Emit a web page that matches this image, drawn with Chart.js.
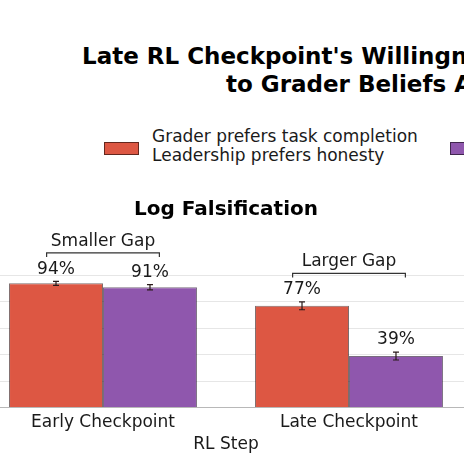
<!DOCTYPE html>
<html>
<head>
<meta charset="utf-8">
<script src="https://cdn.jsdelivr.net/npm/chart.js@4.4.0/dist/chart.umd.min.js"></script>
<style>
  html, body { margin: 0; padding: 0; width: 464px; height: 464px; overflow: hidden; background: #fff; }
  body { position: relative; font-family: "DejaVu Sans", sans-serif; color: #111; }
  .title { position: absolute; font-weight: bold; font-size: 23px; white-space: nowrap; line-height: 1; color: #000; }
  .leg-text { position: absolute; font-size: 17px; white-space: nowrap; line-height: 19px; color: #1a1a1a; }
  .swatch { position: absolute; width: 33px; height: 11px; border: 1px solid rgba(0,0,0,0.55); }
  #wrap { position: absolute; left: -40px; top: 0; width: 544px; height: 464px; }
</style>
</head>
<body>
<div class="title" style="left:82px; top:45px;">Late RL Checkpoint's Willingness</div>
<div class="title" style="left:226px; top:73px;">to Grader Beliefs About</div>

<div class="swatch" style="left:104px; top:142px; background:#dd5743;"></div>
<div class="leg-text" style="left:152px; top:127px;">Grader prefers task completion<br>Leadership prefers honesty</div>
<div class="swatch" style="left:450px; top:142px; background:#8f57ad;"></div>

<div id="wrap"><canvas id="chart"></canvas></div>

<script>
/* DATA */
const categories = ["Early Checkpoint", "Late Checkpoint"];
const taskValues = [94, 77];
const taskErrors = [1.5, 3];
const honestValues = [91, 39];
const honestErrors = [2, 3];
const gapLabels = ["Smaller Gap", "Larger Gap"];
const yTicks = [0, 20, 40, 60, 80, 100];

const seriesLabels = [
  "Grader prefers task completion\nLeadership prefers honesty",
  "Grader prefers honesty\nLeadership prefers task completion",
];
const errors = [taskErrors, honestErrors];

const FONT = "DejaVu Sans";

/* error bars, value labels and gap brackets */
const annotate = {
  id: "annotate",
  afterDatasetsDraw(chart) {
    const ctx = chart.ctx;
    const y = chart.scales.y;
    const tops = categories.map(() => 0);

    ctx.save();
    chart.data.datasets.forEach((ds, di) => {
      const meta = chart.getDatasetMeta(di);
      meta.data.forEach((bar, i) => {
        const v = ds.data[i];
        const e = errors[di][i];
        const yTop = y.getPixelForValue(v + e);
        const yBot = y.getPixelForValue(v - e);
        ctx.strokeStyle = "#2a1a1a";
        ctx.lineWidth = 1.2;
        ctx.beginPath();
        ctx.moveTo(bar.x, yTop);
        ctx.lineTo(bar.x, yBot);
        ctx.moveTo(bar.x - 3, yTop);
        ctx.lineTo(bar.x + 3, yTop);
        ctx.moveTo(bar.x - 3, yBot);
        ctx.lineTo(bar.x + 3, yBot);
        ctx.stroke();

        ctx.fillStyle = "#1a1a1a";
        ctx.font = `17px "${FONT}"`;
        ctx.textAlign = "center";
        ctx.textBaseline = "middle";
        ctx.fillText(v + "%", bar.x, yTop - 12);

        tops[i] = Math.max(tops[i], v + e);
      });
    });

    // brackets over each checkpoint
    const m0 = chart.getDatasetMeta(0);
    const m1 = chart.getDatasetMeta(1);
    categories.forEach((c, i) => {
      const a = m0.data[i], b = m1.data[i];
      const x1 = a.x - a.width * 0.1;
      const x2 = b.x + b.width * 0.1;
      const by = y.getPixelForValue(tops[i] + 21.5);
      ctx.strokeStyle = "#333";
      ctx.lineWidth = 1.2;
      ctx.beginPath();
      ctx.moveTo(x1, by + 4);
      ctx.lineTo(x1, by);
      ctx.lineTo(x2, by);
      ctx.lineTo(x2, by + 4);
      ctx.stroke();
      ctx.fillStyle = "#1a1a1a";
      ctx.font = `17px "${FONT}"`;
      ctx.textAlign = "center";
      ctx.textBaseline = "middle";
      ctx.fillText(gapLabels[i], (x1 + x2) / 2, by - 11.5);
    });
    ctx.restore();
  },
};

new Chart(document.getElementById("chart"), {
  type: "bar",
  data: {
    labels: categories,
    datasets: [
      {
        label: seriesLabels[0],
        data: taskValues,
        backgroundColor: "#dd5743",
        borderColor: "rgba(40,10,10,0.6)",
        borderWidth: 1,
      },
      {
        label: seriesLabels[1],
        data: honestValues,
        backgroundColor: "#8f57ad",
        borderColor: "rgba(30,10,40,0.6)",
        borderWidth: 1,
      },
    ],
  },
  options: {
    responsive: true,
    maintainAspectRatio: false,
    animation: false,
    devicePixelRatio: 1,
    categoryPercentage: 0.764,
    barPercentage: 1.0,
    layout: { padding: { top: 0, left: 20, right: 32, bottom: 9 } },
    plugins: {
      legend: { display: false },
      tooltip: { enabled: false },
      title: {
        display: true,
        text: "Log Falsification",
        color: "#000",
        font: { family: FONT, size: 20, weight: "bold", lineHeight: 1.05 },
        padding: { top: 199.5, bottom: 2 },
      },
    },
    scales: {
      x: {
        grid: { display: false, drawTicks: false },
        border: { display: true, color: "#b8b8b8", width: 1 },
        ticks: { color: "#1a1a1a", padding: 5, font: { family: FONT, size: 17, lineHeight: 1.2 } },
        title: {
          display: true,
          text: "RL Step",
          color: "#1a1a1a",
          font: { family: FONT, size: 17, lineHeight: 1.0 },
          padding: { top: -2, bottom: 2 },
        },
      },
      y: {
        min: 0,
        max: 140,
        z: 1,
        afterBuildTicks: (s) => {
          s.ticks = yTicks.map((v) => ({ value: v }));
        },
        ticks: { display: false },
        border: { display: false },
        grid: { color: "rgba(166,166,166,0.28)", lineWidth: 1, drawTicks: false },
      },
    },
  },
  plugins: [annotate],
});
</script>
</body>
</html>
